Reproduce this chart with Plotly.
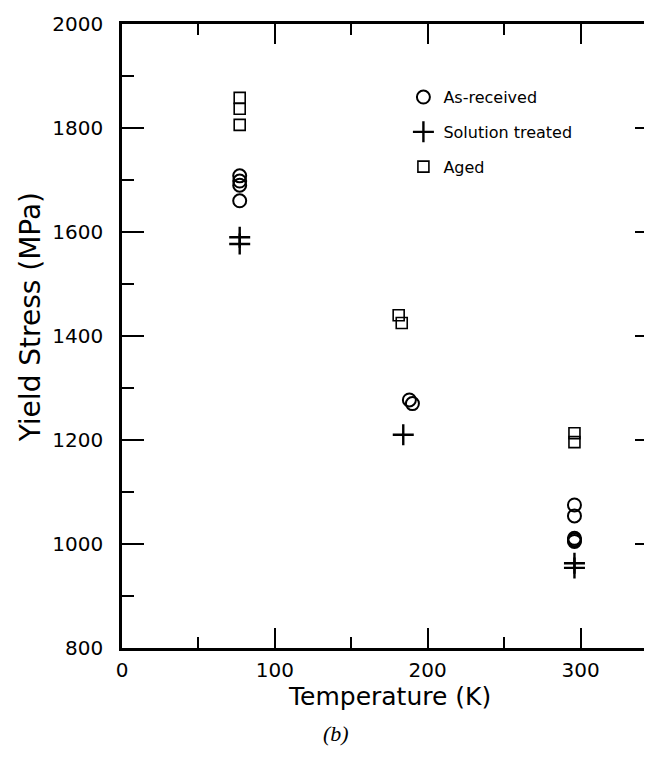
import plotly.graph_objects as go

# Data (Temperature K, Yield stress MPa)
as_received_T = [77, 77, 77, 77, 188, 190, 296, 296, 296, 296, 296]
as_received_S = [1708, 1698, 1690, 1660, 1277, 1270, 1075, 1054, 1011, 1008, 1005]

solution_T = [77, 77, 184, 296, 296]
solution_S = [1590, 1577, 1210, 963, 954]

aged_T = [77, 77, 77, 181, 183, 296, 296]
aged_S = [1858, 1837, 1806, 1440, 1425, 1213, 1196]

x_ticks = [0, 100, 200, 300]
y_ticks = [800, 1000, 1200, 1400, 1600, 1800, 2000]

font_family = "DejaVu Sans, Arial, sans-serif"

fig = go.Figure()
fig.add_trace(go.Scatter(
    x=as_received_T, y=as_received_S, mode="markers", name="As-received",
    legendgroup="a",
    marker=dict(symbol="circle-open", size=13, color="black", line=dict(width=2, color="black")),
))
fig.add_trace(go.Scatter(
    x=solution_T, y=solution_S, mode="markers", name="Solution treated",
    legendgroup="b",
    marker=dict(symbol="cross-thin-open", size=15, color="black", line=dict(width=2.4, color="black")),
))
fig.add_trace(go.Scatter(
    x=aged_T, y=aged_S, mode="markers", name="Aged",
    legendgroup="c",
    marker=dict(symbol="square-open", size=11, color="black", line=dict(width=1.6, color="black")),
))

fig.update_layout(
    width=652, height=758,
    margin=dict(l=114, r=0, t=16, b=118),
    paper_bgcolor="white", plot_bgcolor="white",
    font=dict(family=font_family, color="black", size=20),
    showlegend=True,
    legend=dict(
        x=0.526, y=0.91, xanchor="left", yanchor="top",
        bgcolor="rgba(0,0,0,0)", borderwidth=0,
        font=dict(size=16, family=font_family),
        tracegroupgap=11, itemwidth=30,
    ),
    xaxis=dict(
        range=[0, 350], tickvals=x_ticks, ticks="inside", ticklen=20, tickwidth=2,
        tickcolor="black", showline=True, linecolor="black", linewidth=2.5,
        mirror="allticks", showgrid=False, zeroline=False,
        minor=dict(dtick=50, ticks="inside", ticklen=11, tickwidth=2, tickcolor="black", showgrid=False),
        tickfont=dict(size=20), ticklabelstandoff=2,
    ),
    yaxis=dict(
        range=[800, 2000], tickvals=y_ticks, ticks="inside", ticklen=22, tickwidth=2,
        tickcolor="black", showline=True, linecolor="black", linewidth=2.5,
        mirror="ticks", showgrid=False, zeroline=False,
        minor=dict(dtick=100, ticks="inside", ticklen=12, tickwidth=2, tickcolor="black", showgrid=False),
        tickfont=dict(size=20), ticklabelstandoff=12,
    ),
    annotations=[
        dict(
            text="Yield Stress (MPa)", xref="paper", yref="paper", x=-0.172, y=0.53,
            xanchor="center", yanchor="middle", showarrow=False, textangle=-90,
            font=dict(family=font_family, size=28),
        ),
        dict(
            text="Temperature (K)", xref="paper", yref="paper", x=0.5, y=-0.077,
            xanchor="center", yanchor="middle", showarrow=False,
            font=dict(family=font_family, size=25),
        ),
        dict(
            text="<i>(b)</i>", xref="paper", yref="paper", x=0.40, y=-0.137,
            xanchor="center", yanchor="middle", showarrow=False,
            font=dict(family="Liberation Serif, Times New Roman, serif", size=22),
        ),
    ],
)

fig.write_html("out.html")
